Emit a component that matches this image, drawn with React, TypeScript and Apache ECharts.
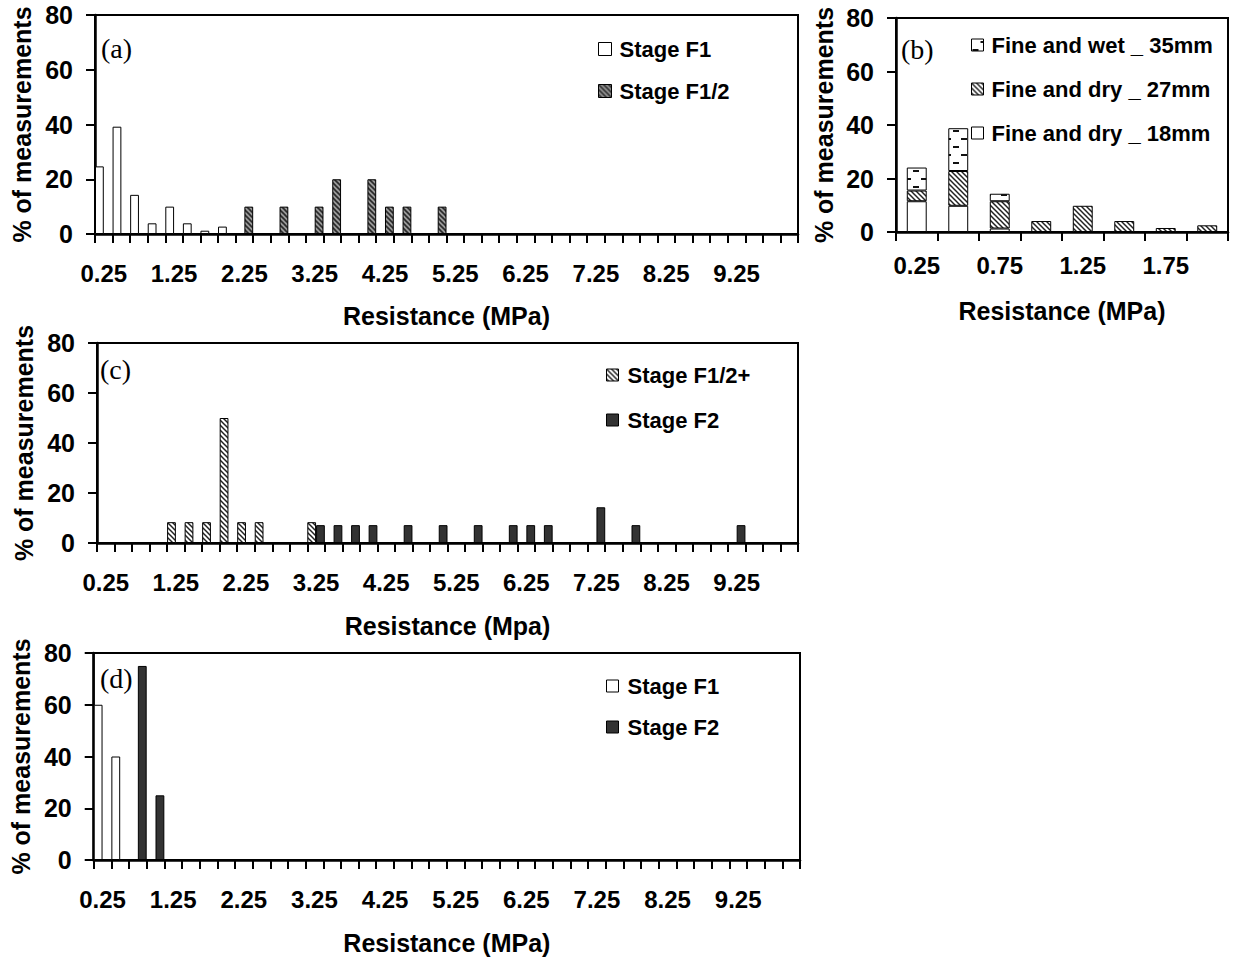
import React, { useEffect, useRef } from 'react';
import * as echarts from 'echarts';

const N = null;

// Category bins (MPa) for panels a, c, d
const categoriesMain = [
  '0.25', '0.5', '0.75', '1', '1.25', '1.5', '1.75', '2', '2.25', '2.5',
  '2.75', '3', '3.25', '3.5', '3.75', '4', '4.25', '4.5', '4.75', '5',
  '5.25', '5.5', '5.75', '6', '6.25', '6.5', '6.75', '7', '7.25', '7.5',
  '7.75', '8', '8.25', '8.5', '8.75', '9', '9.25', '9.5', '9.75', '10',
];
// Category bins for panel b
const categoriesB = ['0.25', '0.5', '0.75', '1', '1.25', '1.5', '1.75', '2'];

// Panel (a)
const aStageF1 = [
  24.7, 39.2, 14.3, 3.9, 10, 3.9, 1.2, 2.7, N, N,
  N, N, N, N, N, N, N, N, N, N,
  N, N, N, N, N, N, N, N, N, N,
  N, N, N, N, N, N, N, N, N, N,
];
const aStageF12 = [
  N, N, N, N, N, N, N, N, 10, N,
  10, N, 10, 20, N, 20, 10, 10, N, 10,
  N, N, N, N, N, N, N, N, N, N,
  N, N, N, N, N, N, N, N, N, N,
];

// Panel (b) stacked
const bDry18 = [11.5, 9.8, 1.3, N, N, N, N, N];
const bDry27 = [4.0, 13.0, 10.2, 4.1, 9.8, 4.1, 1.5, 2.5];
const bWet35 = [8.6, 16.0, 2.8, N, N, N, N, N];

// Panel (c)
const cStageF12p = [
  N, N, N, N, 8.33, 8.33, 8.33, 50, 8.33, 8.33,
  N, N, 8.33, N, N, N, N, N, N, N,
  N, N, N, N, N, N, N, N, N, N,
  N, N, N, N, N, N, N, N, N, N,
];
const cStageF2 = [
  N, N, N, N, N, N, N, N, N, N,
  N, N, 7.14, 7.14, 7.14, 7.14, N, 7.14, N, 7.14,
  N, 7.14, N, 7.14, 7.14, 7.14, N, N, 14.29, N,
  7.14, N, N, N, N, N, 7.14, N, N, N,
];

// Panel (d)
const dStageF1 = [
  60, 40, N, N, N, N, N, N, N, N,
  N, N, N, N, N, N, N, N, N, N,
  N, N, N, N, N, N, N, N, N, N,
  N, N, N, N, N, N, N, N, N, N,
];
const dStageF2 = [
  N, N, 75, 25, N, N, N, N, N, N,
  N, N, N, N, N, N, N, N, N, N,
  N, N, N, N, N, N, N, N, N, N,
  N, N, N, N, N, N, N, N, N, N,
];

const yMin = 0;
const yMax = 80;
const yStep = 20;

function makePattern(w: number, h: number, draw: (ctx: CanvasRenderingContext2D) => void) {
  const c = document.createElement('canvas');
  c.width = w;
  c.height = h;
  const ctx = c.getContext('2d') as CanvasRenderingContext2D;
  draw(ctx);
  return { image: c.toDataURL(), repeat: 'repeat', imageWidth: w, imageHeight: h } as any;
}

function diag(bg: string, fg: string, p: number, lw: number) {
  return makePattern(p, p, (ctx) => {
    ctx.fillStyle = bg;
    ctx.fillRect(0, 0, p, p);
    ctx.strokeStyle = fg;
    ctx.lineWidth = lw;
    for (let k = -1; k <= 1; k++) {
      ctx.beginPath();
      ctx.moveTo(k * p - 1, -1);
      ctx.lineTo(k * p + p + 1, p + 1);
      ctx.stroke();
    }
  });
}

export default function App() {
  const ref = useRef<HTMLDivElement>(null);
  useEffect(() => {
    if (!ref.current) return;
    const chart = echarts.init(ref.current, undefined, { renderer: 'svg' });

    const darkHatch = diag('#9a9a9a', '#2a2a2a', 5, 1.6);
    const lightHatch = diag('#ffffff', '#222222', 5, 1.5);
    const wetDash = makePattern(16, 16, (ctx) => {
      ctx.fillStyle = '#ffffff';
      ctx.fillRect(0, 0, 16, 16);
      ctx.fillStyle = '#111111';
      ctx.fillRect(9, 2, 6, 2);
      ctx.fillRect(1, 10, 6, 2);
    });

    const font = 'Liberation Sans';
    const bold = { color: '#000', fontFamily: font, fontWeight: 'bold' as const };

    const grids = [
      { left: 95, top: 15, width: 703, height: 219 },
      { left: 896, top: 18, width: 332, height: 214 },
      { left: 97, top: 343, width: 701, height: 200 },
      { left: 93, top: 653, width: 707, height: 207 },
    ];
    const xNames = ['Resistance (MPa)', 'Resistance (MPa)', 'Resistance (Mpa)', 'Resistance (MPa)'];
    const xNameGaps = [69, 66, 70, 70];
    const xLabelMargins = [27, 21, 27, 27];
    const xCats = [categoriesMain, categoriesB, categoriesMain, categoriesMain];
    const xIntervals = [3, 1, 3, 3];

    const legendBase = {
      orient: 'vertical', padding: 0, icon: 'rect', selectedMode: false,
      itemStyle: { borderColor: '#000', borderWidth: 1 },
    };

    const option: any = {
      animation: false,
      backgroundColor: '#fff',
      grid: grids.map((g) => ({ ...g, show: true, borderColor: '#000', borderWidth: 2, backgroundColor: 'transparent', containLabel: false })),
      xAxis: grids.map((_, i) => ({
        type: 'category',
        gridIndex: i,
        data: xCats[i],
        boundaryGap: true,
        name: xNames[i],
        nameLocation: 'middle',
        nameGap: xNameGaps[i],
        nameTextStyle: { ...bold, fontSize: 25 },
        axisLine: { show: true, lineStyle: { color: '#000', width: 2.5 } },
        axisTick: { show: true, interval: 0, length: 9, inside: false, lineStyle: { color: '#000', width: 2 } },
        axisLabel: { interval: xIntervals[i], margin: xLabelMargins[i], ...bold, fontSize: 24 },
        splitLine: { show: false },
      })),
      yAxis: grids.map((_, i) => ({
        type: 'value',
        gridIndex: i,
        min: yMin,
        max: yMax,
        interval: yStep,
        name: '% of measurements',
        nameLocation: 'middle',
        nameRotate: 90,
        nameGap: 60,
        nameTextStyle: { ...bold, fontSize: 25 },
        axisLine: { show: true, lineStyle: { color: '#000', width: 2.5 } },
        axisTick: { show: true, length: 9, inside: false, lineStyle: { color: '#000', width: 2 } },
        axisLabel: { margin: 22, ...bold, fontSize: 25 },
        splitLine: { show: false },
      })),
      legend: [
        {
          ...legendBase, left: 598, top: 38, itemWidth: 13, itemHeight: 13, itemGap: 20,
          textStyle: { ...bold, fontSize: 22, padding: [0, 0, 0, 3] },
          data: ['Stage F1', 'Stage F1/2'],
        },
        {
          ...legendBase, left: 971, top: 34, itemWidth: 12, itemHeight: 12, itemGap: 22,
          textStyle: { ...bold, fontSize: 22, padding: [0, 0, 0, 3] },
          data: ['Fine and wet _ 35mm', 'Fine and dry _ 27mm', 'Fine and dry _ 18mm'],
        },
        {
          ...legendBase, left: 606, top: 364, itemWidth: 12, itemHeight: 12, itemGap: 23,
          textStyle: { ...bold, fontSize: 22, padding: [0, 0, 0, 4] },
          data: ['Stage F1/2+', 'Stage F2'],
        },
        {
          ...legendBase, left: 606, top: 675, itemWidth: 12, itemHeight: 12, itemGap: 19,
          textStyle: { ...bold, fontSize: 22, padding: [0, 0, 0, 4] },
          data: ['Stage F1', 'Stage F2'],
        },
      ],
      graphic: [
        { type: 'text', left: 101, top: 34, style: { text: '(a)', fontSize: 28, fontFamily: 'Liberation Serif', fill: '#000' } },
        { type: 'text', left: 901, top: 35, style: { text: '(b)', fontSize: 28, fontFamily: 'Liberation Serif', fill: '#000' } },
        { type: 'text', left: 100, top: 355, style: { text: '(c)', fontSize: 28, fontFamily: 'Liberation Serif', fill: '#000' } },
        { type: 'text', left: 100, top: 664, style: { text: '(d)', fontSize: 28, fontFamily: 'Liberation Serif', fill: '#000' } },
      ],
      series: [
        {
          type: 'bar', name: 'Stage F1', xAxisIndex: 0, yAxisIndex: 0, data: aStageF1,
          barGap: '0%', barCategoryGap: '0%',
          itemStyle: { color: '#ffffff', borderColor: '#000', borderWidth: 1 },
        },
        {
          type: 'bar', name: 'Stage F1/2', xAxisIndex: 0, yAxisIndex: 0, data: aStageF12,
          barGap: '0%', barCategoryGap: '0%',
          itemStyle: { color: darkHatch, borderColor: '#000', borderWidth: 1 },
        },
        {
          type: 'bar', name: 'Fine and dry _ 18mm', xAxisIndex: 1, yAxisIndex: 1, data: bDry18,
          stack: 'b', barCategoryGap: '52%',
          itemStyle: { color: '#ffffff', borderColor: '#000', borderWidth: 1 },
        },
        {
          type: 'bar', name: 'Fine and dry _ 27mm', xAxisIndex: 1, yAxisIndex: 1, data: bDry27,
          stack: 'b', barCategoryGap: '52%',
          itemStyle: { color: lightHatch, borderColor: '#000', borderWidth: 1 },
        },
        {
          type: 'bar', name: 'Fine and wet _ 35mm', xAxisIndex: 1, yAxisIndex: 1, data: bWet35,
          stack: 'b', barCategoryGap: '52%',
          itemStyle: { color: wetDash, borderColor: '#000', borderWidth: 1 },
        },
        {
          type: 'bar', name: 'Stage F1/2+', xAxisIndex: 2, yAxisIndex: 2, data: cStageF12p,
          barGap: '0%', barCategoryGap: '0%',
          itemStyle: { color: lightHatch, borderColor: '#000', borderWidth: 1 },
        },
        {
          type: 'bar', name: 'Stage F2', xAxisIndex: 2, yAxisIndex: 2, data: cStageF2,
          barGap: '0%', barCategoryGap: '0%',
          itemStyle: { color: '#333333', borderColor: '#000', borderWidth: 1 },
        },
        {
          type: 'bar', name: 'Stage F1', xAxisIndex: 3, yAxisIndex: 3, data: dStageF1,
          barGap: '0%', barCategoryGap: '0%',
          itemStyle: { color: '#ffffff', borderColor: '#000', borderWidth: 1 },
        },
        {
          type: 'bar', name: 'Stage F2', xAxisIndex: 3, yAxisIndex: 3, data: dStageF2,
          barGap: '0%', barCategoryGap: '0%',
          itemStyle: { color: '#333333', borderColor: '#000', borderWidth: 1 },
        },
      ],
    };
    chart.setOption(option);
    return () => chart.dispose();
  }, []);

  return (
    <div
      ref={ref}
      style={{ position: 'absolute', left: 0, top: 0, width: 1234, height: 957, background: '#fff' }}
    />
  );
}
